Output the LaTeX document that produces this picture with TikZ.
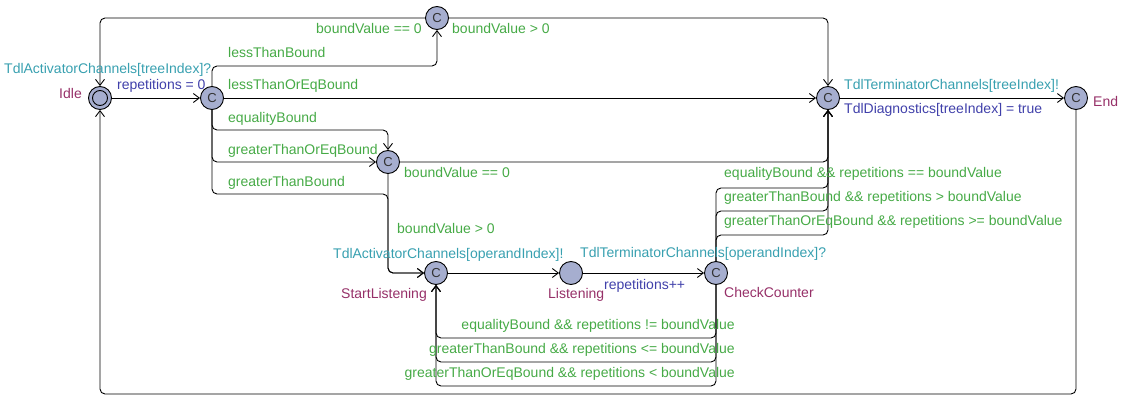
\documentclass[tikz,border=0pt]{standalone}
\usepackage{fontspec}
\setmainfont{Liberation Sans}
\usetikzlibrary{arrows.meta}
\definecolor{guardc}{RGB}{70,170,70}
\definecolor{syncc}{RGB}{56,160,176}
\definecolor{assignc}{RGB}{64,64,170}
\definecolor{namec}{RGB}{150,48,104}
\definecolor{locfill}{RGB}{166,174,207}
\begin{document}
\begin{tikzpicture}[x=1pt,y=-1pt,
  txt/.style={font=\fontsize{14}{16}\selectfont, inner sep=0pt},
  loc/.style={circle,draw,fill=locfill,minimum size=23pt,inner sep=0pt,line width=0.9pt,font=\fontsize{13}{15}\selectfont,text=black!80},
  edge/.style={draw,line width=0.9pt,rounded corners=5pt,-{Straight Barb[length=6pt,width=9pt]}},
  guard/.style={txt,text=guardc},
  sync/.style={txt,text=syncc},
  assign/.style={txt,text=assignc},
  lname/.style={txt,text=namec}]
\useasboundingbox (0,0) rectangle (1129,412);
% locations
\node[loc] (idle) at (100,98) {};
\draw[line width=0.9pt] (idle.center) circle (7.5pt);
\node[loc] (br) at (212,98) {C};
\node[loc] (top) at (437,18) {C};
\node[loc] (term) at (828,98) {C};
\node[loc] (end) at (1076,98) {C};
\node[loc] (mid) at (388,162) {C};
\node[loc] (start) at (436,273) {C};
\node[loc] (listen) at (571,273) {};
\node[loc] (check) at (716,273) {C};
% edges
\draw[edge] (idle) -- (br);
\draw[edge] (br.north) -- (212,66) -- (437,66) -- (top.south);
\draw[edge] (br) -- (term);
\draw[edge] (br.south) -- (212,130) -- (388,130) -- (mid.north);
\draw[edge] (br.south) -- (212,162) -- (mid.west);
\draw[edge] (br.south) -- (212,194) -- (388,194) -- (388,273) -- (start.west);
\draw[edge] (top.west) -- (100,18) -- (idle.north);
\draw[edge] (top.east) -- (828,18) -- (term.north);
\draw[edge] (mid.east) -- (828,162) -- (term.south);
\draw[edge] (mid.south) -- (388,273) -- (start.west);
\draw[edge] (start) -- (listen);
\draw[edge] (listen) -- (check);
\draw[edge] (check.north) -- (716,188) -- (828,188) -- (term.south);
\draw[edge] (check.north) -- (716,211) -- (828,211) -- (term.south);
\draw[edge] (check.north) -- (716,235) -- (828,235) -- (term.south);
\draw[edge] (check.south) -- (716,338) -- (436,338) -- (start.south);
\draw[edge] (check.south) -- (716,362) -- (436,362) -- (start.south);
\draw[edge] (check.south) -- (716,386) -- (436,386) -- (start.south);
\draw[edge] (end.south) -- (1076,394) -- (100,394) -- (idle.south);
\draw[edge] (term) -- (end);
% labels
\node[sync,anchor=base west] (t1) at (4,74) {TdlActivatorChannels[treeIndex]?};
\node[assign,anchor=base west] (t2) at (117,89) {repetitions = 0};
\node[lname,anchor=base east] (t3) at (82,98) {Idle};
\node[guard,anchor=base west] (t4) at (228,57) {lessThanBound};
\node[guard,anchor=base west] (t5) at (228,89) {lessThanOrEqBound};
\node[guard,anchor=base west] (t6) at (228,122) {equalityBound};
\node[guard,anchor=base west] (t7) at (228,154) {greaterThanOrEqBound};
\node[guard,anchor=base west] (t8) at (228,186) {greaterThanBound};
\node[guard,anchor=base east] (t9) at (422,34) {boundValue == 0};
\node[guard,anchor=base west] (t10) at (452,34) {boundValue > 0};
\node[sync,anchor=base west] (t11) at (844,89) {TdlTerminatorChannels[treeIndex]!};
\node[assign,anchor=base west] (t12) at (844,113) {TdlDiagnostics[treeIndex] = true};
\node[lname,anchor=base west] (t13) at (1093,106) {End};
\node[guard,anchor=base west] (t14) at (404,177) {boundValue == 0};
\node[guard,anchor=base west] (t15) at (397,233) {boundValue > 0};
\node[sync,anchor=base west] (t16) at (333,258) {TdlActivatorChannels[operandIndex]!};
\node[lname,anchor=base west] (t17) at (341,298) {StartListening};
\node[lname,anchor=base west] (t18) at (548,298) {Listening};
\node[assign,anchor=base west] (t19) at (604,289) {repetitions++};
\node[sync,anchor=base west] (t20) at (580,257) {TdlTerminatorChannels[operandIndex]?};
\node[lname,anchor=base west] (t21) at (724,297) {CheckCounter};
\node[guard,anchor=base west] (t22) at (724,177) {equalityBound \&\& repetitions == boundValue};
\node[guard,anchor=base west] (t23) at (724,201) {greaterThanBound \&\& repetitions > boundValue};
\node[guard,anchor=base west] (t24) at (724,225) {greaterThanOrEqBound \&\& repetitions >= boundValue};
\node[guard,anchor=base east] (t25) at (735,329) {equalityBound \&\& repetitions != boundValue};
\node[guard,anchor=base east] (t26) at (735,353) {greaterThanBound \&\& repetitions <= boundValue};
\node[guard,anchor=base east] (t27) at (735,377) {greaterThanOrEqBound \&\& repetitions < boundValue};
\end{tikzpicture}
\end{document}
